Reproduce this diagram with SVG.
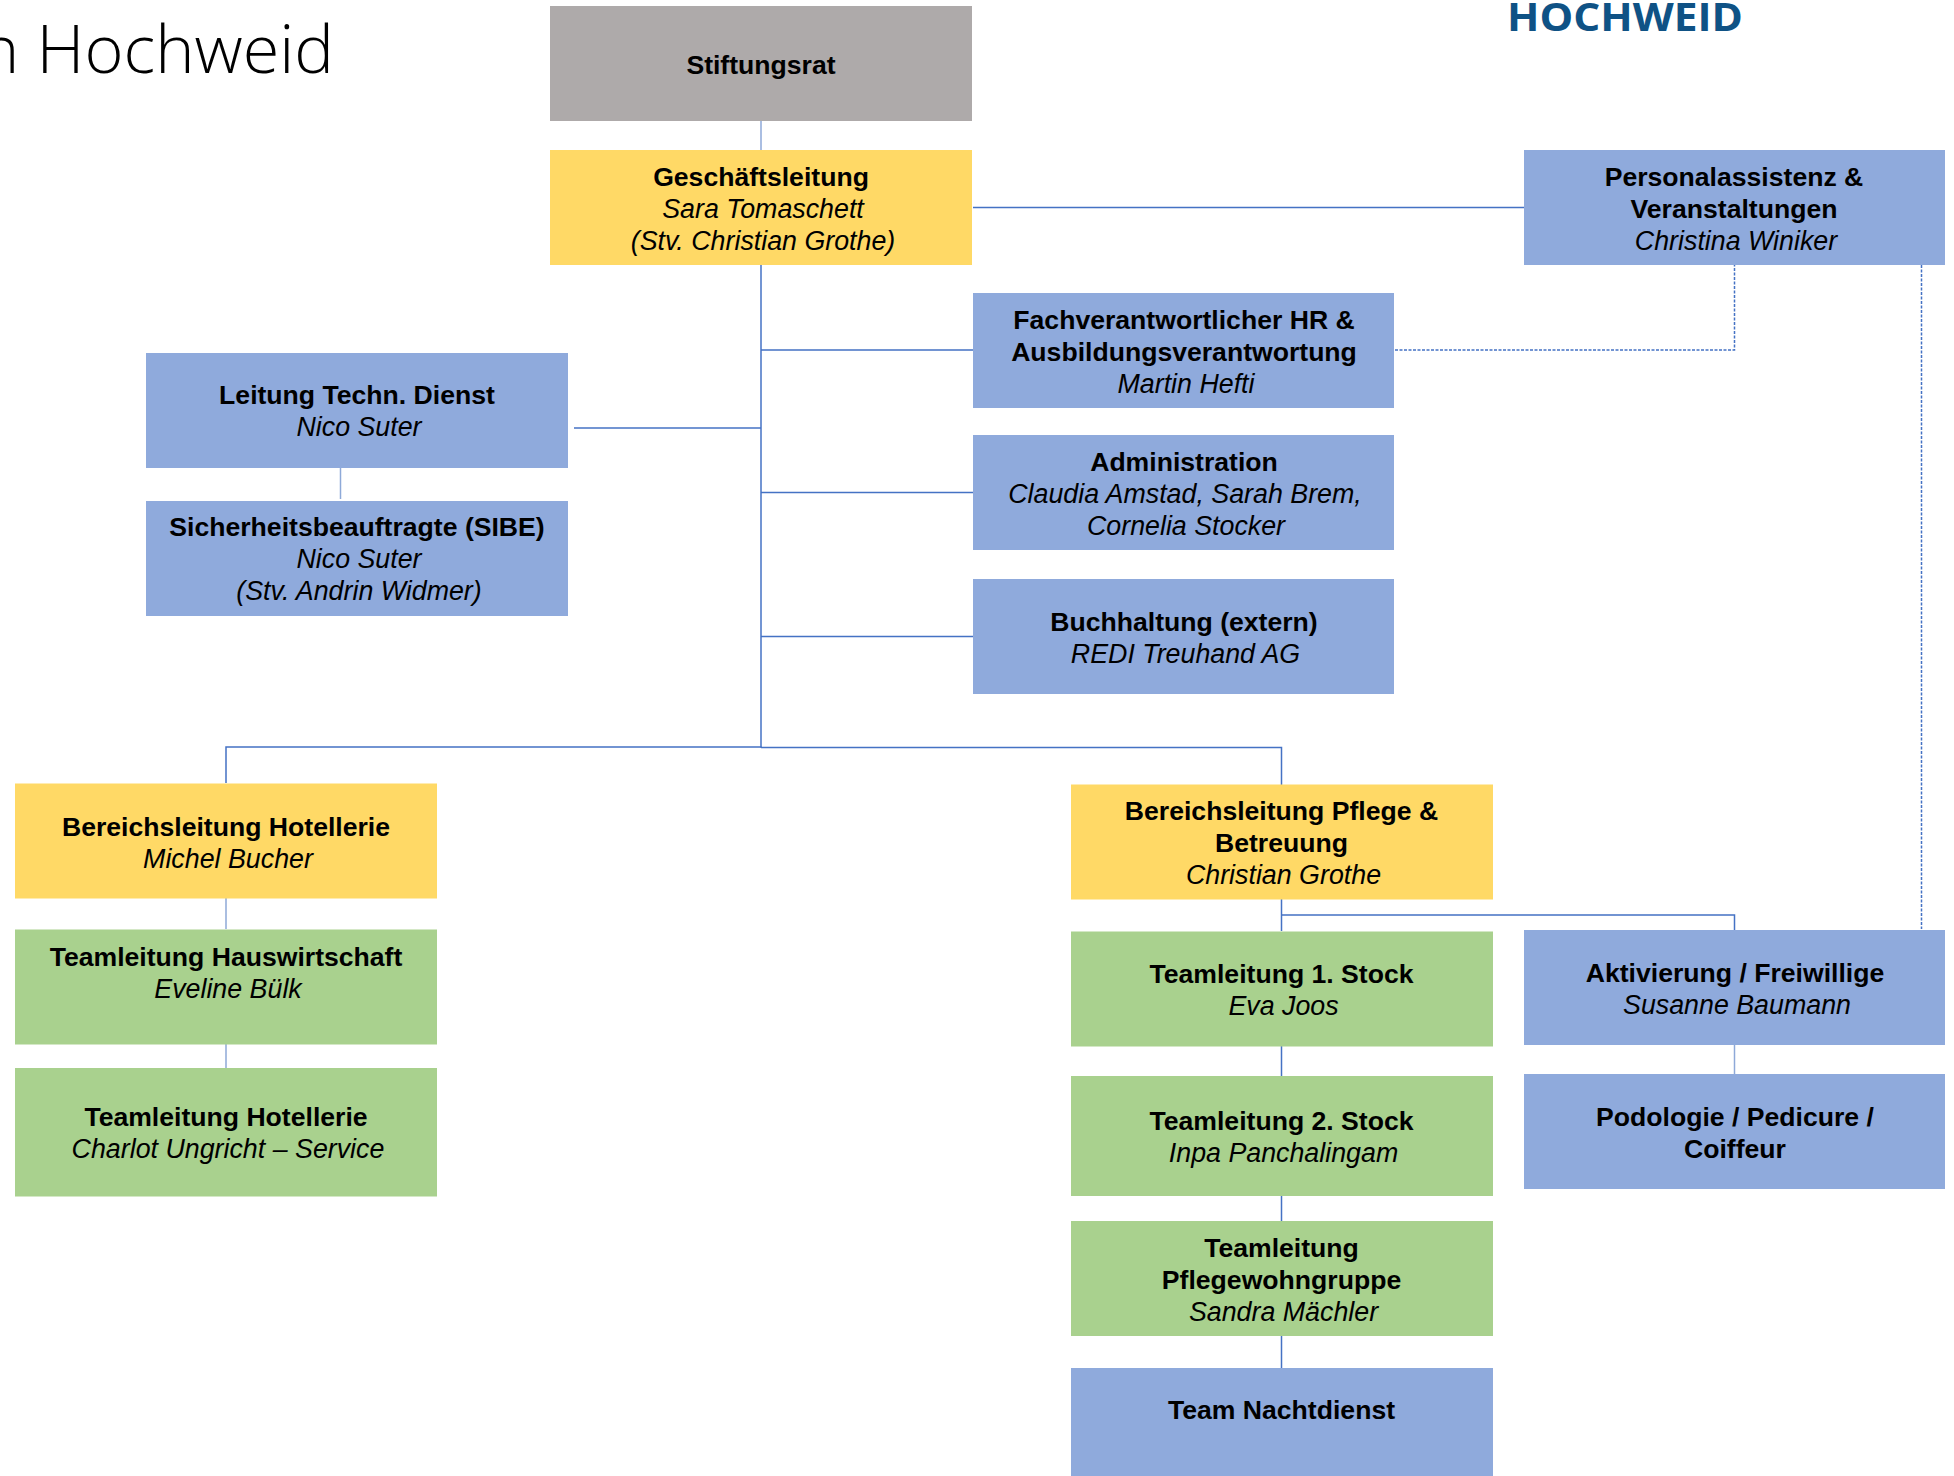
<svg xmlns="http://www.w3.org/2000/svg" width="1954" height="1476" viewBox="0 0 1954 1476">
<style>
.g{fill:#aeaaaa}.y{fill:#ffd966}.b{fill:#8faadc}.v{fill:#a9d18e}
text{font-family:"Liberation Sans",Arial,sans-serif;font-size:26.6px;fill:#000;text-anchor:middle}
.t{font-weight:700}.n{font-style:italic;font-size:26.8px}
#connectors path{fill:none;stroke:#4472c4;stroke-width:1.5}
#connectors .s{stroke:#8ea9d8}
#connectors .d{stroke-width:1.5;stroke-dasharray:3 1.5}
</style>
<rect width="1954" height="1476" fill="#fff"/>
<g id="title"><text x="-20" y="73" style="font-family:'Open Sans',sans-serif;font-weight:300;font-size:67px;text-anchor:start" textLength="354" lengthAdjust="spacingAndGlyphs">n Hochweid</text></g>
<g id="logo"><text x="1625" y="31" style="font-family:'Open Sans',sans-serif;font-weight:700;font-size:40px;fill:#0f5285" textLength="236" lengthAdjust="spacingAndGlyphs">HOCHWEID</text></g>
<g id="connectors">
<path class="s" d="M761 121V150"/>
<path d="M761 265V747.500"/>
<path d="M973 207.500H1524"/>
<path d="M761 350H973M761 492.500H973M761 636.500H973"/>
<path d="M574 428H761"/>
<path class="s" d="M340.500 468V499"/>
<path class="d" d="M1395 350H1734.500V265"/>
<path class="d" d="M1921.500 265V929"/>
<path d="M226 783V747H761L761.500 747.500H1281.500V931"/>
<path class="s" d="M226 898V929M226 1044V1068"/>
<path d="M1281.500 915H1734.500V930"/>
<path class="s" d="M1734.500 1045V1074"/>
<path d="M1281.500 1046V1076M1281.500 1196V1221M1281.500 1336V1368"/>
</g>
<g id="n-stiftungsrat"><rect class="g" x="550" y="6" width="422" height="115"/><text class="t" x="761" y="73.500">Stiftungsrat</text></g>
<g id="n-geschaeftsleitung"><rect class="y" x="550" y="150" width="422" height="115"/><text class="t" x="761" y="186">Geschäftsleitung</text><text class="n" x="763" y="218">Sara Tomaschett</text><text class="n" x="763" y="250">(Stv. Christian Grothe)</text></g>
<g id="n-personal"><rect class="b" x="1524" y="150" width="421" height="115"/><text class="t" x="1734" y="186">Personalassistenz &amp;</text><text class="t" x="1734" y="218">Veranstaltungen</text><text class="n" x="1736" y="250">Christina Winiker</text></g>
<g id="n-fach"><rect class="b" x="973" y="293" width="421" height="115"/><text class="t" x="1184" y="329">Fachverantwortlicher HR &amp;</text><text class="t" x="1184" y="361">Ausbildungsverantwortung</text><text class="n" x="1186" y="393">Martin Hefti</text></g>
<g id="n-admin"><rect class="b" x="973" y="435" width="421" height="115"/><text class="t" x="1184" y="471">Administration</text><text class="n" x="1185" y="503">Claudia Amstad, Sarah Brem,</text><text class="n" x="1186" y="535">Cornelia Stocker</text></g>
<g id="n-buchhaltung"><rect class="b" x="973" y="579" width="421" height="115"/><text class="t" x="1184" y="631">Buchhaltung (extern)</text><text class="n" x="1185.500" y="663">REDI Treuhand AG</text></g>
<g id="n-tech"><rect class="b" x="146" y="353" width="422" height="115"/><text class="t" x="357" y="404">Leitung Techn. Dienst</text><text class="n" x="359" y="435.500">Nico Suter</text></g>
<g id="n-sibe"><rect class="b" x="146" y="501" width="422" height="115"/><text class="t" x="357" y="535.500">Sicherheitsbeauftragte (SIBE)</text><text class="n" x="359" y="567.500">Nico Suter</text><text class="n" x="359" y="599.500">(Stv. Andrin Widmer)</text></g>
<g id="n-hotellerie"><rect class="y" x="15" y="783.500" width="422" height="115"/><text class="t" x="226" y="836">Bereichsleitung Hotellerie</text><text class="n" x="228" y="868">Michel Bucher</text></g>
<g id="n-hauswirtschaft"><rect class="v" x="15" y="929.500" width="422" height="115"/><text class="t" x="226" y="966">Teamleitung Hauswirtschaft</text><text class="n" x="228" y="998">Eveline Bülk</text></g>
<g id="n-tl-hotellerie"><rect class="v" x="15" y="1068" width="422" height="128.500"/><text class="t" x="226" y="1126">Teamleitung Hotellerie</text><text class="n" x="228" y="1158">Charlot Ungricht – Service</text></g>
<g id="n-pflege"><rect class="y" x="1071" y="784.500" width="422" height="115"/><text class="t" x="1281.500" y="820">Bereichsleitung Pflege &amp;</text><text class="t" x="1281.500" y="852">Betreuung</text><text class="n" x="1283.500" y="884">Christian Grothe</text></g>
<g id="n-stock1"><rect class="v" x="1071" y="931.500" width="422" height="115"/><text class="t" x="1281.500" y="982.500">Teamleitung 1. Stock</text><text class="n" x="1283.500" y="1014.500">Eva Joos</text></g>
<g id="n-stock2"><rect class="v" x="1071" y="1076" width="422" height="120"/><text class="t" x="1281.500" y="1129.500">Teamleitung 2. Stock</text><text class="n" x="1283.500" y="1162">Inpa Panchalingam</text></g>
<g id="n-pflegewohn"><rect class="v" x="1071" y="1221" width="422" height="115"/><text class="t" x="1281.500" y="1257">Teamleitung</text><text class="t" x="1281.500" y="1289">Pflegewohngruppe</text><text class="n" x="1283.500" y="1321">Sandra Mächler</text></g>
<g id="n-nacht"><rect class="b" x="1071" y="1368" width="422" height="108"/><text class="t" x="1281.500" y="1418.500">Team Nachtdienst</text></g>
<g id="n-aktivierung"><rect class="b" x="1524" y="930" width="421" height="115"/><text class="t" x="1735" y="981.500">Aktivierung / Freiwillige</text><text class="n" x="1737" y="1013.500">Susanne Baumann</text></g>
<g id="n-podologie"><rect class="b" x="1524" y="1074" width="421" height="115"/><text class="t" x="1735" y="1126">Podologie / Pedicure /</text><text class="t" x="1735" y="1158">Coiffeur</text></g>
</svg>
